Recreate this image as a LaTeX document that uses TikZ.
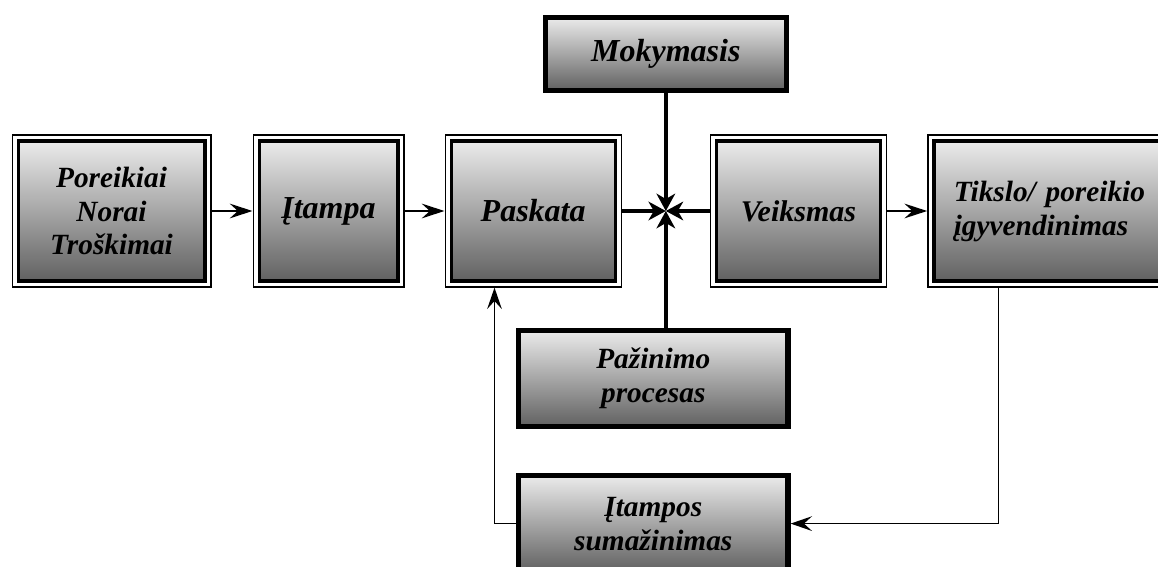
\documentclass[tikz,border=0pt]{standalone}
\usepackage{fontspec}
\setmainfont{Liberation Serif}
\usepackage{tikz}
\usetikzlibrary{arrows.meta, calc, positioning}
\tikzstyle{dbox} = [rectangle, draw=black, line width=2.5pt, top color=black!8, bottom color=black!62, minimum height=105pt, align=center, outer sep=5pt, font=\bfseries\itshape\fontsize{24}{25}\selectfont,
  append after command={\pgfextra{\draw[line width=1pt] ([shift={(.5pt,-.5pt)}]\tikzlastnode.north west) rectangle ([shift={(-.5pt,.5pt)}]\tikzlastnode.south east);}}]
\tikzstyle{sbox} = [rectangle, draw=black, line width=4pt, top color=black!8, bottom color=black!62, align=center, font=\bfseries\itshape\fontsize{22}{25.5}\selectfont]
\tikzstyle{arrow} = [line width=1.6pt, -{Stealth[length=17pt, width=11pt, inset=6pt]}]
\tikzstyle{back} = [line width=1.2pt, -{Stealth[length=16pt, width=11pt, inset=6pt]}]
\tikzstyle{meet} = [line width=3pt, -{Stealth[length=13pt, width=14pt, inset=4pt]}]

\begin{document}
\begin{tikzpicture}[x=0.75pt, y=-0.75pt, node distance=30.75pt]
    \useasboundingbox (0,0) rectangle (1158,567);
    % top row
    \node (Poreikiai) [dbox, minimum width=140pt, font=\bfseries\itshape\fontsize{22}{25}\selectfont] at (111.5,211) {Poreikiai\\Norai\\Troškimai};
    \node (Itampa) [dbox, minimum width=104pt, right = of Poreikiai] {Įtampa};
    \node (Paskata) [dbox, minimum width=123pt, right = 30pt of Itampa] {Paskata};
    \node (Veiksmas) [dbox, minimum width=123pt, font=\bfseries\itshape\fontsize{22.5}{25}\selectfont, right = 66pt of Paskata] {Veiksmas};
    \node (Tikslas) [dbox, text width=165pt, inner xsep=15pt, align=left, font=\bfseries\itshape\fontsize{22}{25.5}\selectfont, right = 30pt of Veiksmas] {Tikslo/ poreikio\\įgyvendinimas};
    \coordinate (J) at ($(Paskata.east)!0.5!(Veiksmas.west)$);
    % boxes above and below the junction
    \node (Mokymasis) [sbox, minimum width=180.5pt, minimum height=54.5pt, font=\bfseries\itshape\fontsize{24}{25}\selectfont, above = 88.5pt of J] {Mokymasis};
    \node (Pazinimas) [sbox, minimum width=202pt, minimum height=71.8pt, below = 87.75pt of J, xshift=-9.4pt] {Pažinimo\\procesas};
    \node (Itampos) [sbox, minimum width=202pt, minimum height=71.8pt, below = 33pt of Pazinimas] {Įtampos\\sumažinimas};
    \draw [arrow] (Poreikiai) -- (Itampa);
    \draw [arrow] (Itampa) -- (Paskata);
    \draw [arrow] (Veiksmas) -- (Tikslas);
    \draw [meet] (Paskata) -- (J);
    \draw [meet] (Veiksmas) -- (J);
    \draw [meet] (Mokymasis) -- (J);
    \draw [meet] (Pazinimas.north -| J) -- (J);
    \draw [back] ([xshift=-49pt]Tikslas.south) |- (Itampos.east);
    \draw [back] (Itampos.west) -| ([xshift=-29pt]Paskata.south);
\end{tikzpicture}
\end{document}
